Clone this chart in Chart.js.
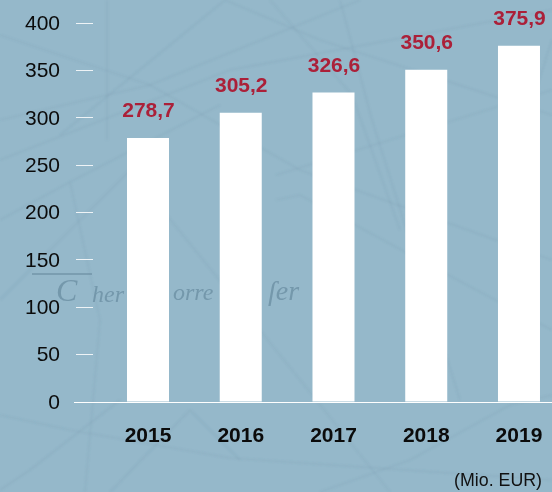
<!DOCTYPE html>
<html><head><meta charset="utf-8">
<style>
html,body{margin:0;padding:0;width:552px;height:492px;overflow:hidden;background:#95b8ca}
#bg{position:absolute;left:0;top:0}
#wrap{position:absolute;left:0;top:0;width:552px;height:492px}
#unit{position:absolute;right:10px;top:470px;font:17.8px "Liberation Sans",Arial,sans-serif;color:#111;line-height:20px}
</style>
<script src="https://cdn.jsdelivr.net/npm/chart.js@4"></script>
</head><body>
<svg id="bg" width="552" height="492" viewBox="0 0 552 492">
 <defs>
  <filter id="soft"><feGaussianBlur stdDeviation="0.8"/></filter>
  <filter id="softer"><feGaussianBlur stdDeviation="0.7"/></filter>
 </defs>
 <g fill="none" stroke="#55798f" stroke-opacity=".16" stroke-width="1.1" filter="url(#soft)">
  <path d="M0 35 L150 85 L300 170 L552 260"/>
  <path d="M225 0 L320 40 L552 115"/>
  <path d="M107 0 L107 140"/>
  <path d="M60 135 L225 0"/>
  <path d="M0 120 L150 85 L360 0"/>
  <path d="M0 160 L230 70 L552 10"/>
  <path d="M340 0 L372 120 L460 400"/>
  <path d="M270 0 L352 95 L400 230"/>
  <path d="M0 220 L70 182 L220 105"/>
  <path d="M70 182 L100 320 L85 492"/>
  <path d="M0 300 L130 170 L260 330 L390 492"/>
  <path d="M276 175 L552 90"/>
  <path d="M276 200 L300 195 L420 260 L552 330"/>
  <path d="M0 415 L70 430 L230 458 L552 480"/>
  <path d="M110 492 L190 410 L240 460"/>
  <path d="M552 395 L510 405 L410 460 L320 492"/>
  <path d="M0 490 L30 470 L120 400"/>
  <path d="M500 200 L552 40"/>
 </g>
 <g filter="url(#softer)">
 <path d="M32 274 H92" stroke="#567a8e" stroke-opacity=".55" stroke-width="1.6" fill="none"/>
 <g fill="#54788d" fill-opacity=".5" font-family="Liberation Serif" font-style="italic">
  <text x="56" y="301" font-size="32">C</text>
  <text x="92" y="302" font-size="24">her</text>
  <text x="173" y="300" font-size="24">orre</text>
  <text x="268" y="300" font-size="28">ſer</text>
 </g>
 </g>
</svg>
<div id="wrap"><canvas id="c" width="552" height="492"></canvas></div>
<div id="unit">(Mio. EUR)</div>
<script>
const years = [2015, 2016, 2017, 2018, 2019];
const revenue = [278.7, 305.2, 326.6, 350.6, 375.9];
const yTicks = [0, 50, 100, 150, 200, 250, 300, 350, 400];

const FONT = '"Liberation Sans", Arial, sans-serif';
const valueLabels = {
  id: 'valueLabels',
  afterDatasetsDraw(chart) {
    const ctx = chart.ctx;
    ctx.save();
    ctx.font = 'bold 21px ' + FONT;
    ctx.fillStyle = '#ab2039';
    ctx.textAlign = 'center';
    ctx.textBaseline = 'alphabetic';
    chart.getDatasetMeta(0).data.forEach((bar, i) => {
      ctx.fillText(revenue[i].toFixed(1).replace('.', ','), bar.x + 0.5, bar.y - 21);
    });
    ctx.restore();
  }
};

new Chart(document.getElementById('c'), {
  type: 'bar',
  data: {
    datasets: [{
      data: years.map((y, i) => ({ x: y, y: revenue[i] })),
      backgroundColor: '#ffffff',
      borderWidth: 0,
      categoryPercentage: 1,
      barPercentage: 0.453
    }]
  },
  options: {
    responsive: false,
    animation: false,
    events: [],
    layout: { autoPadding: false, padding: { top: 23, left: 0, right: 0, bottom: 0 } },
    plugins: { legend: { display: false }, tooltip: { enabled: false } },
    scales: {
      x: {
        type: 'linear',
        offset: false,
        min: 2014.407,
        max: 2019.356,
        afterBuildTicks(s) { s.ticks = years.map(v => ({ value: v })); },
        afterFit(s) { s.height = 90; s.paddingLeft = 0; s.paddingRight = 0; s.paddingTop = 0; s.paddingBottom = 0; },
        border: { display: true, color: '#ffffff', width: 1 },
        grid: { display: false, drawTicks: false },
        ticks: {
          callback: v => String(v),
          autoSkip: false,
          maxRotation: 0,
          padding: 22,
          color: '#0b0b0b',
          font: { family: FONT, size: 21, weight: 'bold' }
        }
      },
      y: {
        min: 0,
        max: 400,
        afterBuildTicks(s) { s.ticks = yTicks.map(v => ({ value: v })); },
        afterFit(s) { s.width = 93; s.paddingTop = 0; s.paddingBottom = 0; s.paddingLeft = 0; s.paddingRight = 0; },
        border: { display: false },
        grid: {
          drawOnChartArea: false,
          drawTicks: true,
          tickLength: 19,
          tickWidth: 1,
          tickColor: c => c.tick && c.tick.value === 0 ? '#ffffff' : '#eef3f6',
          tickBorderDash: c => c.tick && c.tick.value === 0 ? [] : [17, 100],
          tickBorderDashOffset: c => c.tick && c.tick.value === 0 ? 0 : -2
        },
        ticks: {
          padding: 14,
          labelOffset: 1,
          color: '#0b0b0b',
          font: { family: FONT, size: 21 }
        }
      }
    }
  },
  plugins: [valueLabels]
});
</script>
</body></html>
